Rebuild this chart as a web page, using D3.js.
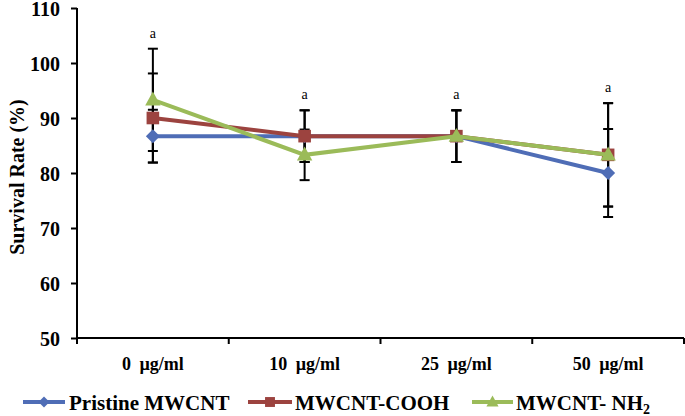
<!DOCTYPE html>
<html>
<head>
<meta charset="utf-8">
<script src="https://cdn.jsdelivr.net/npm/d3@7"></script>
<style>
  html, body { margin: 0; padding: 0; background: #fff; }
  svg { display: block; }
  text { font-family: "Liberation Serif", "Times New Roman", serif; }
</style>
</head>
<body>
<svg id="chart" width="685" height="416"></svg>
<script>
// ---- data ----
const categories = ["0 µg/ml", "10 µg/ml", "25 µg/ml", "50 µg/ml"];
const pristine = [86.7, 86.7, 86.7, 80.0];
const pristineErr = [4.8, 4.7, 4.7, 8.0];
const cooh = [90.0, 86.7, 86.7, 83.3];
const coohErr = [8.1, 4.7, 4.7, 9.4];
const nh2 = [93.3, 83.3, 86.7, 83.3];
const nh2Err = [9.3, 4.6, 4.7, 9.4];
const yTicks = [50, 60, 70, 80, 90, 100, 110];
const sigLabels = ["a", "a", "a", "a"];
const seriesNames = ["Pristine MWCNT", "MWCNT-COOH", "MWCNT- NH"];

const series = [
  { name: seriesNames[0], values: pristine, err: pristineErr, color: "#4f6db6", shape: "diamond" },
  { name: seriesNames[1], values: cooh, err: coohErr, color: "#9c433f", shape: "square" },
  { name: seriesNames[2], values: nh2, err: nh2Err, color: "#9bbb59", shape: "triangle" }
];

const svg = d3.select("#chart");
const x = d3.scaleBand().domain(categories).range([77, 684]).padding(0);
const y = d3.scaleLinear().domain([50, 110]).range([338, 8]);
const cx = c => x(c) + x.bandwidth() / 2;

// y axis
const yAxis = svg.append("g").attr("transform", "translate(77,0)")
  .call(d3.axisLeft(y).tickValues(yTicks).tickSize(6).tickPadding(11).tickFormat(d3.format("d")));
yAxis.attr("font-family", null).attr("font-size", null);
yAxis.select(".domain").attr("stroke", "#000").attr("stroke-width", 2).attr("d", `M0,${y(110)}V${y(50)}`);
yAxis.selectAll(".tick line").attr("stroke", "#000").attr("stroke-width", 2);
yAxis.selectAll(".tick text").attr("fill", "#000").attr("dy", "0.38em")
  .style("font-size", "20px").style("font-weight", "bold")
  .style("font-family", "'Liberation Serif', 'Times New Roman', serif");

// x axis
const xAxis = svg.append("g").attr("transform", `translate(0,${y(50)})`)
  .call(d3.axisBottom(x).tickSize(0).tickPadding(19));
xAxis.attr("font-family", null).attr("font-size", null);
xAxis.select(".domain").attr("stroke", "#000").attr("stroke-width", 2).attr("d", `M76,0H684`);
xAxis.selectAll(".tick text").attr("fill", "#000")
  .style("font-size", "18px").style("font-weight", "bold")
  .style("font-family", "'Liberation Serif', 'Times New Roman', serif").style("word-spacing", "4px");
// boundary ticks
const bounds = categories.map(c => x(c)).concat([x(categories[categories.length - 1]) + x.bandwidth()]);
svg.append("g").selectAll("line").data(bounds).join("line")
  .attr("x1", d => d).attr("x2", d => d)
  .attr("y1", y(50)).attr("y2", y(50) + 6)
  .attr("stroke", "#000").attr("stroke-width", 2);

// y title
svg.append("text")
  .attr("transform", `translate(17,${(y(110) + y(50)) / 2 + 4}) rotate(-90)`)
  .attr("text-anchor", "middle").attr("dy", "0.35em")
  .style("font-size", "20px").style("font-weight", "bold").text("Survival Rate (%)");

// error bars
const eb = svg.append("g");
series.forEach(s => {
  s.values.forEach((v, i) => {
    const px = cx(categories[i]);
    const top = y(v + s.err[i]), bot = y(v - s.err[i]);
    eb.append("line").attr("x1", px).attr("x2", px).attr("y1", top).attr("y2", bot)
      .attr("stroke", "#000").attr("stroke-width", 2);
    [top, bot].forEach(yy => eb.append("line").attr("x1", px - 5).attr("x2", px + 5)
      .attr("y1", yy).attr("y2", yy).attr("stroke", "#000").attr("stroke-width", 2));
  });
});

// sig labels above max error
sigLabels.forEach((lab, i) => {
  const maxTop = d3.max(series, s => s.values[i] + s.err[i]);
  svg.append("text").attr("x", cx(categories[i])).attr("y", y(maxTop) - 11)
    .attr("text-anchor", "middle").style("font-size", "14px").text(lab);
});

function marker(g, shape, px, py, size, color) {
  if (shape === "diamond") {
    const r = size / 2;
    g.append("path").attr("d", `M${px},${py - r}L${px + r},${py}L${px},${py + r}L${px - r},${py}Z`).attr("fill", color);
  } else if (shape === "square") {
    const r = size * 0.45;
    g.append("rect").attr("x", px - r).attr("y", py - r).attr("width", 2 * r).attr("height", 2 * r).attr("fill", color);
  } else {
    const w = size * 0.55, h = size * 0.95;
    g.append("path").attr("d", `M${px},${py - h * 0.62}L${px + w},${py + h * 0.42}L${px - w},${py + h * 0.42}Z`).attr("fill", color);
  }
}

// lines + markers
const line = d3.line().x((d, i) => cx(categories[i])).y(d => y(d));
series.forEach(s => {
  const g = svg.append("g");
  g.append("path").attr("d", line(s.values)).attr("fill", "none")
    .attr("stroke", s.color).attr("stroke-width", 4);
  s.values.forEach((v, i) => marker(g, s.shape, cx(categories[i]), y(v), 14, s.color));
});

// legend
const legendPos = [{ x0: 23, x1: 65, tx: 69 }, { x0: 248, x1: 292, tx: 295 }, { x0: 472, x1: 513, tx: 516 }];
const ly = 402;
series.forEach((s, i) => {
  const p = legendPos[i];
  const g = svg.append("g");
  g.append("line").attr("x1", p.x0).attr("x2", p.x1).attr("y1", ly).attr("y2", ly)
    .attr("stroke", s.color).attr("stroke-width", 4);
  marker(g, s.shape, (p.x0 + p.x1) / 2, ly, 11, s.color);
  const t = g.append("text").attr("x", p.tx).attr("y", ly + 8)
    .style("font-size", "21px").style("font-weight", "bold").text(s.name);
  if (i === 2) {
    t.append("tspan").style("font-size", "14px").attr("dy", 4).text("2");
  }
});
</script>
</body>
</html>
